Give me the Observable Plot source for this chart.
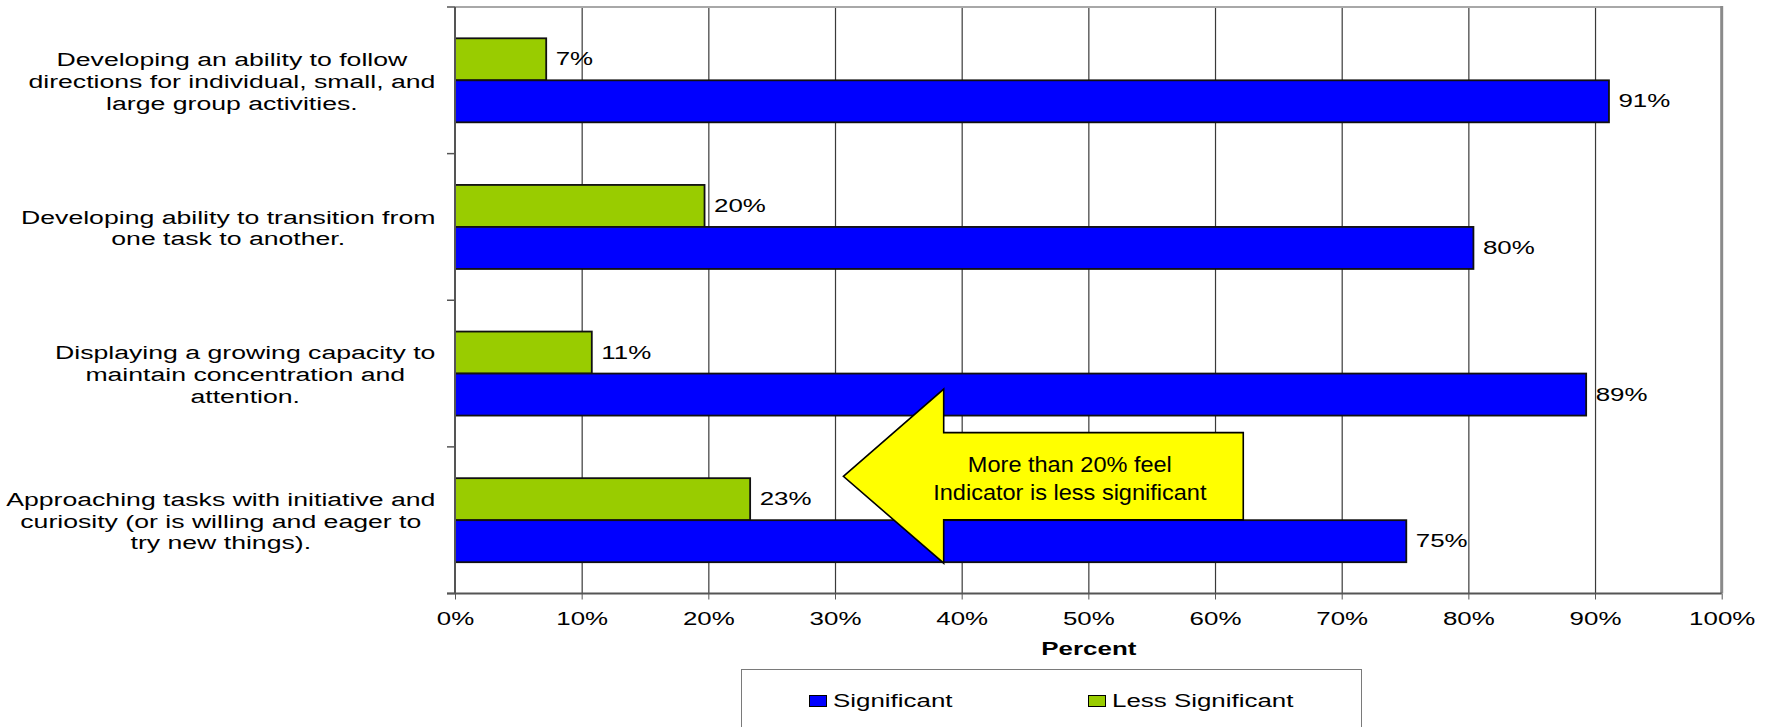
<!DOCTYPE html>
<html>
<head>
<meta charset="utf-8">
<script src="https://cdn.jsdelivr.net/npm/d3@7"></script>
<script src="https://cdn.jsdelivr.net/npm/@observablehq/plot@0.6"></script>
<style>
  html, body { margin: 0; padding: 0; background: #fff; overflow: hidden; }
  #wrap { position: relative; width: 1769px; height: 727px; font-family: "Liberation Sans", Arial, sans-serif; }
  #legend { position: absolute; box-sizing: border-box; border: 1.5px solid #7a7a7a; background: #fff; }
  .item { position: absolute; display: flex; align-items: center; }
  .sw { box-sizing: border-box; width: 17.5px; height: 12px; border: 1.5px solid #000; }
  .lab { font-size: 17.5px; color: #000; transform: scaleX(1.48); transform-origin: left center; white-space: nowrap; margin-left: 6px; }
</style>
</head>
<body>
<div id="wrap"></div>
<script>
// ---------------- data ----------------
const categories = [
  "Developing an ability to follow\ndirections for individual, small, and\nlarge group activities.",
  "Developing ability to transition from\none task to another.",
  "Displaying a growing capacity to\nmaintain concentration and\nattention.",
  "Approaching tasks with initiative and\ncuriosity (or is willing and eager to\ntry new things)."
];
const significant     = [91.1, 80.4, 89.3, 75.1];
const lessSignificant = [7.2, 19.7, 10.8, 23.3];
const seriesNames  = ["Significant", "Less Significant"];
const seriesColors = ["#0000FF", "#99CC00"];
const xTicks = [0, 10, 20, 30, 40, 50, 60, 70, 80, 90, 100];
const xLabel = "Percent";
const arrowTextLines = ["More than 20% feel", "Indicator is less significant"];
// annotation arrow: x in percent, y as fraction of the category band of the anchor category
const arrowCategory = categories[3];
const arrowX = [30.66, 38.58, 38.58, 62.23, 62.23, 38.58, 38.58];
const arrowBand = [0.201, -0.394, -0.0975, -0.0975, 0.498, 0.498, 0.793];
const arrowTextX = 48.5;

// ---------------- build ----------------
const sigData  = categories.map((c, i) => ({category: c, value: significant[i]}));
const lessData = categories.map((c, i) => ({category: c, value: lessSignificant[i]}));
const fmt = v => Math.round(v) + "%";

const K = 1.48;            // horizontal text stretch of the original picture
const FS = 17.5;
const CFS = 18;            // category label font size
const FONT = "Liberation Sans, Arial, sans-serif";

// measure widest line of each category label
const ctx = document.createElement("canvas").getContext("2d");
ctx.font = `${CFS}px "Liberation Sans"`;
const labelRight = -20; // px left of the 0% axis
const labelMarks = categories.map(c => {
  const w = d3.max(c.split("\n"), l => ctx.measureText(l).width) * K;
  return Plot.text([c], {
    x: () => 0, y: d => d, text: d => d,
    textAnchor: "middle", lineAnchor: "middle", lineHeight: 1.21,
    dx: labelRight - w / 2, fontSize: CFS, fill: "#000"
  });
});

const frameMark = (index, scales) => {
  const {x, y} = scales;
  const bw = y.bandwidth();
  const g = d3.create("svg:g");
  const x0 = x(0), x1 = x(100);
  const yTop = y(categories[0]);
  const yBot = y(categories[categories.length - 1]) + bw;
  g.append("line").attr("x1", x0).attr("x2", x1).attr("y1", yTop).attr("y2", yTop)
    .attr("stroke", "#a8a8a8").attr("stroke-width", 2);
  g.append("line").attr("x1", x1).attr("x2", x1).attr("y1", yTop - 1).attr("y2", yBot)
    .attr("stroke", "#8a8a8a").attr("stroke-width", 3);
  g.append("line").attr("x1", x0).attr("x2", x0).attr("y1", yTop).attr("y2", yBot)
    .attr("stroke", "#555").attr("stroke-width", 2);
  g.append("line").attr("x1", x0 - 8).attr("x2", x1).attr("y1", yBot).attr("y2", yBot)
    .attr("stroke", "#555").attr("stroke-width", 2);
  const bounds = categories.map(c => y(c)).concat([yBot]);
  for (const b of bounds) {
    g.append("line").attr("x1", x0 - 8).attr("x2", x0).attr("y1", b).attr("y2", b)
      .attr("stroke", "#555").attr("stroke-width", 1.5);
  }
  return g.node();
};

const arrowMark = (index, scales) => {
  const {x, y} = scales;
  const bw = y.bandwidth();
  const y0 = y(arrowCategory);
  const pts = arrowX.map((v, i) => [x(v), y0 + arrowBand[i] * bw]);
  const g = d3.create("svg:g");
  g.append("path").attr("d", "M" + pts.join("L") + "Z")
    .attr("fill", "#FFFF00").attr("stroke", "#000").attr("stroke-width", 1.6)
    .attr("stroke-linejoin", "miter");
  return g.node();
};

const chart = Plot.plot({
  width: 1769,
  height: 665,
  marginLeft: 455,
  marginRight: 47.3,
  marginTop: 7,
  marginBottom: 71.5,
  style: {fontFamily: FONT, fontSize: "17.5px", color: "#000", background: "#fff", overflow: "visible"},
  x: {domain: [0, 100], ticks: xTicks, tickFormat: d => d + "%", tickSize: 6, tickPadding: 13, label: null},
  y: {domain: categories, padding: 0, round: false, axis: null},
  marks: [
    Plot.ruleX(xTicks.slice(1, -1), {stroke: "#3a3a3a", strokeWidth: 1.2}),
    Plot.barX(lessData, {x: "value", y: "category", fill: seriesColors[1], stroke: "#111", strokeWidth: 1.8, insetTop: 31.3, insetBottom: 73.3}),
    Plot.barX(sigData,  {x: "value", y: "category", fill: seriesColors[0], stroke: "#111", strokeWidth: 1.8, insetTop: 73.3, insetBottom: 31.3}),
    frameMark,
    Plot.text(lessData, {x: "value", y: "category", text: d => fmt(d.value), textAnchor: "start", dx: 9, dy: -21, fontSize: 17.5, fill: "#000"}),
    Plot.text(sigData,  {x: "value", y: "category", text: d => fmt(d.value), textAnchor: "start", dx: 9, dy: 21, fontSize: 17.5, fill: "#000"}),
    ...labelMarks,
    Plot.text([xLabel], {frameAnchor: "bottom", text: d => d, dy: 55.5, lineAnchor: "middle", fontWeight: "bold", fontSize: 17.5, fill: "#000"}),
    arrowMark,
    Plot.text([arrowTextLines.join("\n")], {x: () => arrowTextX, y: () => arrowCategory, text: d => d, textAnchor: "middle", lineAnchor: "middle", lineHeight: 1.27, dy: -43.5, fontSize: 22, fill: "#000"})
  ]
});

// stretch texts horizontally like the original picture
function stretchText(el, k) {
  const t = el.getAttribute("transform");
  if (t) {
    el.setAttribute("transform", t + ` scale(${k},1)`);
  } else {
    const x = +(el.getAttribute("x") || 0);
    const yv = +(el.getAttribute("y") || 0);
    el.setAttribute("transform", `translate(${x},${yv}) scale(${k},1)`);
    el.setAttribute("x", 0);
    el.setAttribute("y", 0);
    el.querySelectorAll("tspan").forEach(ts => { if (ts.hasAttribute("x")) ts.setAttribute("x", 0); });
  }
}
chart.querySelectorAll("text").forEach(el => {
  const isArrow = arrowTextLines.some(l => el.textContent.includes(l));
  stretchText(el, isArrow ? 1.07 : K);
});
chart.querySelectorAll("g[aria-label='x-axis tick'] path, g[aria-label='x-axis tick'] line").forEach(p => p.setAttribute("stroke", "#555"));

const wrap = document.getElementById("wrap");
wrap.appendChild(chart);

// legend (HTML, below the SVG)
const legend = document.createElement("div");
legend.id = "legend";
Object.assign(legend.style, {left: "741px", top: "669px", width: "621px", height: "90px"});
const itemLeft = [67, 346];
seriesNames.forEach((name, i) => {
  const it = document.createElement("div");
  it.className = "item";
  Object.assign(it.style, {left: itemLeft[i] + "px", top: "17px", height: "28px"});
  const sw = document.createElement("div");
  sw.className = "sw"; sw.style.background = seriesColors[i];
  const lb = document.createElement("span");
  lb.className = "lab"; lb.textContent = name;
  it.appendChild(sw); it.appendChild(lb);
  legend.appendChild(it);
});
wrap.appendChild(legend);
</script>
</body>
</html>
